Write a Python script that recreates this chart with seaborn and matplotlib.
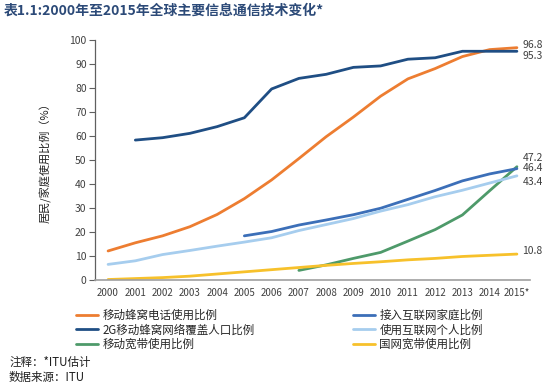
import numpy as np
import pandas as pd
import seaborn as sns
import matplotlib
matplotlib.use("Agg")
import matplotlib.pyplot as plt
from matplotlib.lines import Line2D

sns.set_theme(style="white")
plt.rcParams['font.family'] = ['Noto Sans CJK SC', 'DejaVu Sans']

years = list(range(2000, 2016))
year_labels = [str(y) for y in range(2000, 2015)] + ["2015*"]
nan = np.nan

mobile_cellular = [12.1, 15.5, 18.4, 22.2, 27.3, 33.9, 41.7, 50.6, 59.7, 67.9, 76.6, 83.8, 88.1, 93.1, 96.0, 96.8]
coverage_2g = [nan, 58.3, 59.3, 61.1, 63.9, 67.6, 79.6, 84.0, 85.7, 88.6, 89.2, 92.0, 92.6, 95.3, 95.3, 95.3]
mobile_broadband = [nan, nan, nan, nan, nan, nan, nan, 4.0, 6.3, 9.0, 11.5, 16.2, 21.0, 27.1, 37.2, 47.2]
household_internet = [nan, nan, nan, nan, nan, 18.4, 20.2, 22.9, 25.0, 27.2, 29.9, 33.6, 37.3, 41.3, 44.2, 46.4]
individual_internet = [6.5, 8.0, 10.6, 12.3, 14.1, 15.8, 17.6, 20.6, 23.1, 25.6, 28.7, 31.4, 34.7, 37.4, 40.4, 43.4]
fixed_broadband = [0.2, 0.6, 1.0, 1.6, 2.5, 3.4, 4.3, 5.2, 6.1, 6.9, 7.6, 8.4, 9.0, 9.8, 10.3, 10.8]

series_names = ["移动蜂窝电话使用比例", "2G移动蜂窝网络覆盖人口比例", "移动宽带使用比例",
                "接入互联网家庭比例", "使用互联网个人比例", "国网宽带使用比例"]
series_values = [mobile_cellular, coverage_2g, mobile_broadband,
                 household_internet, individual_internet, fixed_broadband]
end_labels = ["96.8", "95.3", "47.2", "46.4", "43.4", "10.8"]
colors = ["#ED7D31", "#1F4E84", "#4E9A6A", "#3C6FB8", "#A6CDEE", "#F7C12B"]

rows = []
for name, vals in zip(series_names, series_values):
    for i, v in enumerate(vals):
        if not np.isnan(v):
            rows.append({"x": i, "value": v, "series": name})
df = pd.DataFrame(rows)

fig = plt.figure(figsize=(5.5, 3.89), dpi=100)
ax = fig.add_axes([95/550, 1-280/389, 435/550, 240/389])

sns.lineplot(data=df, x="x", y="value", hue="series", hue_order=series_names,
             palette=dict(zip(series_names, colors)), linewidth=2.0, ax=ax,
             legend=False, sort=True)

ax.set_xlim(-0.48, 15.48)
ax.set_ylim(0, 100)
ax.set_xticks(range(16))
ax.set_xticklabels(year_labels)
ax.set_yticks(range(0, 101, 10))
ax.tick_params(axis='x', length=0, labelsize=7, colors='#404040', pad=6)
ax.tick_params(axis='y', length=4, width=0.8, color='#606060', labelsize=7.5,
               colors='#404040', pad=2, direction='out', left=True)
ax.set_xlabel("")
ax.set_ylabel("居民/家庭使用比例（%）", fontsize=8, color='#202020')
ax.yaxis.set_label_coords(-0.1, 0.5)
for s in ["top", "right"]:
    ax.spines[s].set_visible(False)
ax.spines["left"].set_color("#606060")
ax.spines["left"].set_linewidth(0.9)
ax.spines["bottom"].set_color("#A0A0A0")
ax.spines["bottom"].set_linewidth(1.2)

# end value labels (vertical positions in data units, separated to avoid overlap)
label_y = [98.0, 93.3, 50.8, 46.6, 41.0, 12.1]
for txt, ly in zip(end_labels, label_y):
    ax.text(15.2, ly, txt, fontsize=7.5, color='#404040', va='center', ha='left',
            clip_on=False)

fig.text(0.006, 1-11/389, "表1.1:2000年至2015年全球主要信息通信技术变化*", fontsize=10,
         fontweight='bold', color='#2C4A78', va='center', ha='left')

handles = [Line2D([0], [0], color=c, lw=2.0) for c in colors]
fig.legend(handles, series_names, ncol=2, loc='upper left',
           bbox_to_anchor=(76/550, 1-309/389), frameon=False, fontsize=8.3,
           handlelength=1.9, handletextpad=0.4, columnspacing=8.5,
           labelspacing=0.12, borderpad=0, borderaxespad=0)

fig.text(9/550, 1-362/389, "注释：*ITU估计", fontsize=8.3, color='#202020', va='center')
fig.text(9/550, 1-377/389, "数据来源：ITU", fontsize=8.3, color='#202020', va='center')

fig.savefig("out.png", dpi=100)
